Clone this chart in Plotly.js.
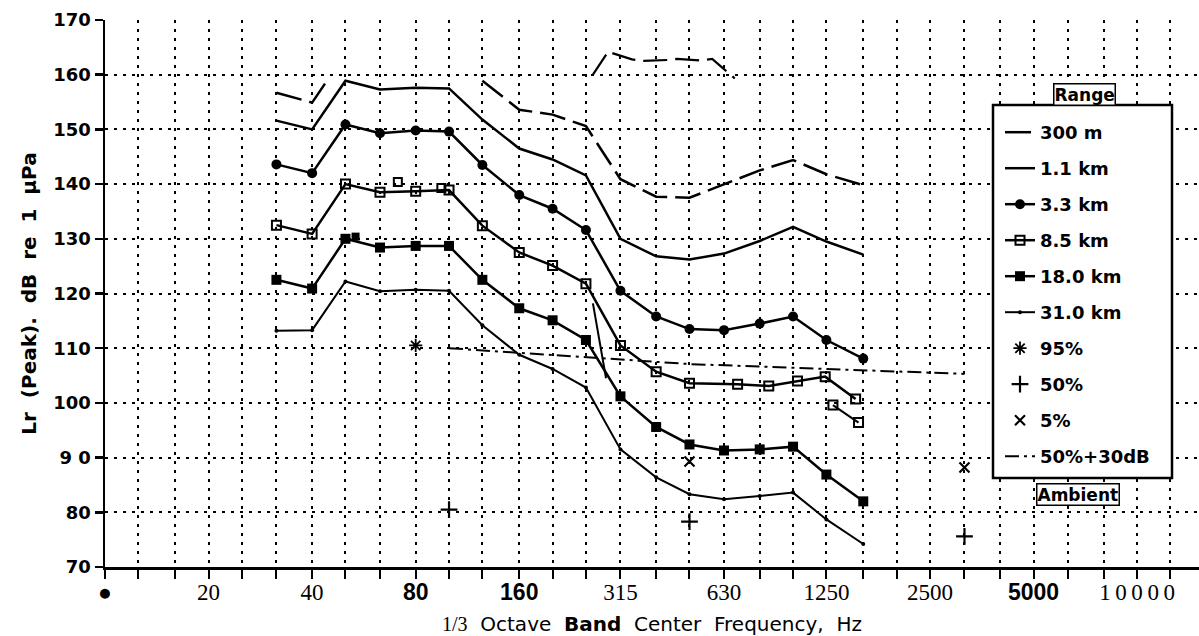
<!DOCTYPE html>
<html><head><meta charset="utf-8">
<script src="https://cdn.plot.ly/plotly-3.0.1.min.js"></script>
<style>html,body{margin:0;padding:0;background:#fff;}#chart{width:1199px;height:636px;}</style>
</head><body><div id="chart"></div>
<script>
// 1/3-octave band centre frequencies (Hz) used by the range curves
const bandHz = [31.5,40,50,63,80,100,125,160,200,250,315,400,500,630,800,1000,1250,1600];

// Range curves, Lr (Peak) dB re 1 uPa
const hz300m  = [31.5,40,44.5,100,125,160,200,250,315,400,500,630,800,1000,1250,1600];
const dB300m  = [156.7,154.9,159.2,null,158.9,153.6,152.7,150.6,140.9,137.7,137.5,140.0,142.5,144.4,141.8,139.8];
const dB1_1km = [151.6,150.0,158.9,157.3,157.6,157.5,151.8,146.5,144.5,141.6,130.0,126.8,126.2,127.3,129.6,132.2,129.5,127.1];
const dB3_3km = [143.6,142.0,150.9,149.3,149.8,149.6,143.5,138.0,135.5,131.6,120.5,115.8,113.5,113.3,114.5,115.8,111.5,108.1];
const hz8_5km = [31.5,40,50,63,80,100,125,160,200,250,315,400,500,690,850,1030,1240,1520];
const dB8_5km = [132.5,130.9,140.0,138.5,138.7,138.9,132.4,127.5,125.1,121.8,110.5,105.7,103.6,103.4,103.1,104.0,104.8,100.7];
const dB18km  = [122.5,120.9,130.0,128.4,128.7,128.7,122.5,117.3,115.1,111.5,101.2,95.6,92.4,91.3,91.5,92.0,86.9,82.0];
const dB31km  = [113.2,113.3,122.2,120.4,120.7,120.5,114.2,108.8,106.2,102.8,91.5,86.4,83.3,82.4,83.0,83.6,78.7,74.2];

// Ambient
const amb95Hz = [80];
const amb95   = [110.5];
const amb50Hz = [100,500,3150];
const amb50   = [80.5,78.3,75.6];
const amb5Hz  = [500,3150];
const amb5    = [89.3,88.2];
const amb50p30Hz = [100,500,3150];
const amb50p30   = [110.0,107.1,105.3];

// stray pieces visible in the scanned figure
const extraOpenHz = [71,95];   const extraOpenDB = [140.4,139.3];
const extraFillHz = [53.5];    const extraFillDB = [130.4];
const upperHz = [262,290,340,364,434,460,543,582,677];
const upperDB = [160.0,164.2,162.8,162.5,162.7,162.9,162.6,162.9,159.3];
const tail85Hz = [1306,1550];  const tail85DB = [99.6,96.4];
const dropHz = [262,286];      const dropDB = [118.2,104.5];

// axis ticks
const B = s => '<span style="font-family:Liberation Sans"><b>' + s + '</b></span>';
const xTickHz  = [10,20,40,80,160,315,630,1250,2500,5000,10000];
const xTickTxt = ['\u25CF','20','40',B('80'),B('160'),'315','630','1250','2500',B('5000'),'1\u20090\u20090\u20090\u20090'];
const xMinorHz = [12.5,16,25,31.5,50,63,100,125,200,250,400,500,800,1000,1600,2000,3150,4000,6300,8000,12500];
const yTicks   = [70,80,90,100,110,120,130,140,150,160,170];
const yTickTxt = ['70','80','9 0','100','110','120','130','140','150','160','170'];

const K = '#000';
const LW = 2.5;
const traces = [];
let g = 0;
function add(t){ t.legendgroup = 'g' + (g++); traces.push(t); }

add({name:'300 m', x:hz300m, y:dB300m, mode:'lines', line:{color:K,width:LW,dash:'26px,8px'}});
add({name:'1.1 km', x:bandHz, y:dB1_1km, mode:'lines', line:{color:K,width:LW}});
add({name:'3.3 km', x:bandHz, y:dB3_3km, mode:'lines+markers', line:{color:K,width:LW},
     marker:{symbol:'circle',size:10,color:K}});
add({name:'8.5 km', x:hz8_5km, y:dB8_5km, mode:'lines+markers', line:{color:K,width:LW},
     marker:{symbol:'square-open',size:9,color:K,line:{width:2,color:K}}});
add({name:'18.0 km', x:bandHz, y:dB18km, mode:'lines+markers', line:{color:K,width:LW},
     marker:{symbol:'square',size:10,color:K}});
add({name:'31.0 km', x:bandHz, y:dB31km, mode:'lines+markers', line:{color:K,width:2},
     marker:{symbol:'circle',size:4,color:K}});
add({name:'95%', x:amb95Hz, y:amb95, mode:'markers',
     marker:{symbol:'asterisk-open',size:11,color:K,line:{width:1.8,color:K}}});
add({name:'50%', x:amb50Hz, y:amb50, mode:'markers',
     marker:{symbol:'cross-thin-open',size:12,color:K,line:{width:2.2,color:K}}});
add({name:'5%', x:amb5Hz, y:amb5, mode:'markers',
     marker:{symbol:'x-thin-open',size:10,color:K,line:{width:2.2,color:K}}});
add({name:'50%+30dB', x:amb50p30Hz, y:amb50p30, mode:'lines',
     line:{color:K,width:2,dash:'14px,5px,3px,5px'}});

// unlabeled fragments
add({x:extraOpenHz, y:extraOpenDB, mode:'markers', showlegend:false,
     marker:{symbol:'square-open',size:8,color:K,line:{width:2,color:K}}});
add({x:extraFillHz, y:extraFillDB, mode:'markers', showlegend:false,
     marker:{symbol:'square',size:8,color:K}});
add({x:upperHz, y:upperDB, mode:'lines', showlegend:false, line:{color:K,width:2.2,dash:'24px,8px'}});
add({x:tail85Hz, y:tail85DB, mode:'lines+markers', showlegend:false, line:{color:K,width:2},
     marker:{symbol:'square-open',size:9,color:K,line:{width:2,color:K},maxdisplayed:0}});
add({x:dropHz, y:dropDB, mode:'lines', showlegend:false, line:{color:K,width:2}});

const dot = '3px,6px';
const px2x = p => (p - 105) / 1094;
const px2y = p => (567 - p) / 547;

const layout = {
  width:1199, height:636,
  margin:{l:105, r:0, t:20, b:69, pad:0},
  paper_bgcolor:'#fff', plot_bgcolor:'#fff',
  showlegend:true,
  font:{family:'DejaVu Sans', color:K},
  xaxis:{
    type:'log', range:[1, 4.18], autorange:false,
    tickmode:'array', tickvals:xTickHz, ticktext:xTickTxt,
    tickfont:{family:'Liberation Serif', size:23, color:K},
    ticks:'outside', ticklen:9, tickwidth:2, tickcolor:K, ticklabelstandoff:-6,
    showgrid:true, gridcolor:K, gridwidth:2, griddash:dot,
    minor:{tickmode:'array', tickvals:xMinorHz, ticks:'outside', ticklen:9, tickwidth:2, tickcolor:K,
           showgrid:true, gridcolor:K, gridwidth:2, griddash:dot},
    showline:true, linecolor:K, linewidth:2.5, zeroline:false,
    title:{text:'<span style="font-family:Liberation Serif">1/3</span>\u00a0 Octave\u00a0 <b>Band</b>\u00a0 Center\u00a0 Frequency,\u00a0 Hz',
           font:{family:'DejaVu Sans', size:20, color:K}, standoff:13}
  },
  yaxis:{
    range:[70,170], autorange:false,
    tickmode:'array', tickvals:yTicks, ticktext:yTickTxt,
    tickfont:{family:'DejaVu Sans', size:18, color:K, weight:'bold'},
    ticks:'outside', ticklen:8, tickwidth:2.5, tickcolor:K,
    showgrid:true, gridcolor:K, gridwidth:2, griddash:dot,
    showline:true, linecolor:K, linewidth:2.5, zeroline:false,
    title:{text:'Lr\u00a0 (Peak).\u00a0 dB\u00a0 re\u00a0 1\u00a0 \u03BCPa',
           font:{family:'DejaVu Sans', size:20, color:K, weight:'bold'}, standoff:12}
  },
  legend:{
    x:px2x(1000), y:px2y(114), xanchor:'left', yanchor:'top',
    bgcolor:'rgba(0,0,0,0)', borderwidth:0, traceorder:'grouped', tracegroupgap:9.6,
    font:{family:'DejaVu Sans', size:18, color:K, weight:'bold'},
    itemwidth:30
  },
  shapes:[
    {type:'rect', xref:'paper', yref:'paper', x0:px2x(993), x1:px2x(1172), y0:px2y(478), y1:px2y(105),
     fillcolor:'#fff', line:{color:K, width:2.5}, layer:'above'}
  ],
  annotations:[
    {text:'<b>Range</b>', xref:'paper', yref:'paper', x:px2x(1084), y:px2y(94),
     xanchor:'center', yanchor:'middle', showarrow:false,
     font:{family:'DejaVu Sans', size:17, color:K}, bordercolor:K, borderwidth:1.5, borderpad:0, bgcolor:'#fff'},
    {text:'<b>Ambient</b>', xref:'paper', yref:'paper', x:px2x(1078), y:px2y(494),
     xanchor:'center', yanchor:'middle', showarrow:false,
     font:{family:'DejaVu Sans', size:17, color:K}, bordercolor:K, borderwidth:1.5, borderpad:0, bgcolor:'#fff'}
  ]
};

Plotly.newPlot('chart', traces, layout, {staticPlot:true, displayModeBar:false});
</script>
</body></html>
